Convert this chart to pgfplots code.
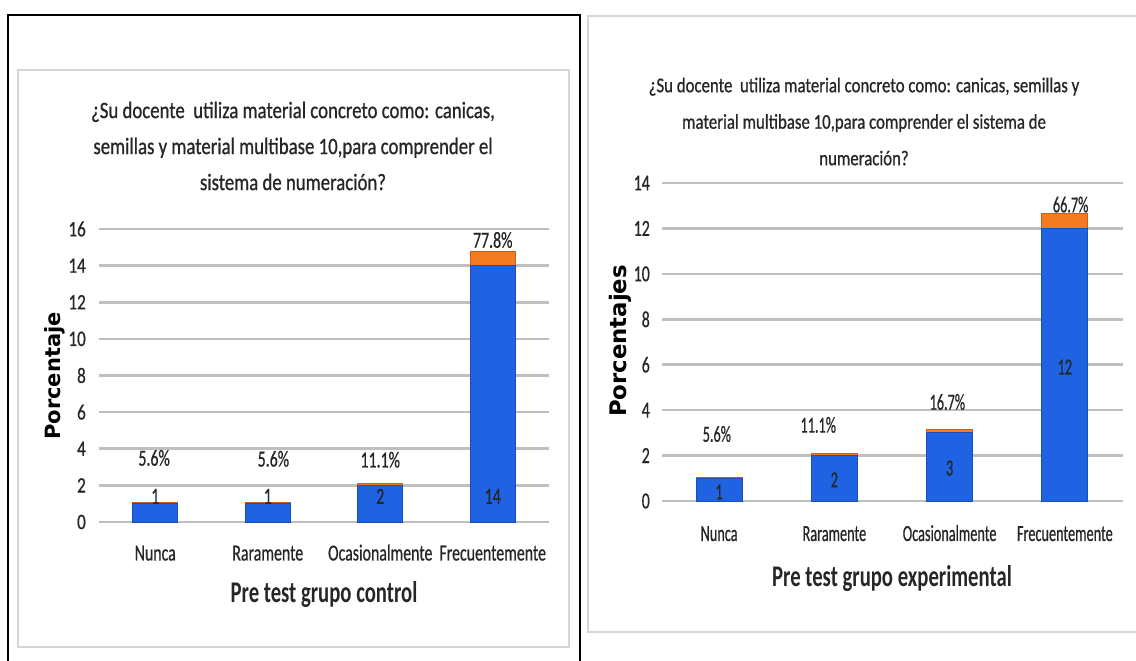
\documentclass[border=0pt]{standalone}
\usepackage{pgfplots}
\pgfplotsset{compat=1.18}
\usepackage{fontspec}
\setmainfont{Carlito}
% condensed cuts of the chart font
\newfontfamily\fttl[FakeStretch=0.80,FakeBold=0.8]{Carlito}
\newfontfamily\fleft[FakeStretch=0.69,FakeBold=0.6]{Carlito}
\newfontfamily\fright[FakeStretch=0.62,FakeBold=0.6]{Carlito}
\newfontfamily\ftickL[FakeStretch=0.78,FakeBold=0.6]{Carlito}
\newfontfamily\faxt[FakeStretch=0.69]{Carlito}
\newfontfamily\fylab{DejaVu Sans}

\definecolor{barblue}{HTML}{1F63E3}
\definecolor{barblueedge}{HTML}{1A4FB5}
\definecolor{barorange}{HTML}{F47B20}
\definecolor{barorangeedge}{HTML}{CC601A}
\definecolor{gridgray}{HTML}{BFBFBF}
\definecolor{panelgray}{HTML}{D6D6D6}
\definecolor{txt}{HTML}{262626}

\tikzset{
  vlabL/.style={text=txt, font=\fleft\fontsize{23}{25}\selectfont},
  vlabR/.style={text=txt, font=\fright\fontsize{23}{25}\selectfont},
}

\pgfplotsset{
  surveybars/.style={
    scale only axis,
    ybar stacked,
    xmin=-0.5, xmax=3.5,
    ymin=0,
    xtick={0,1,2,3},
    xticklabels={Nunca,Raramente,Ocasionalmente,Frecuentemente},
    axis line style={draw=none},
    major tick length=0pt,
    ymajorgrids,
    grid style={gridgray, line width=2.6pt},
    /pgf/number format/assume math mode=true,
    yticklabel style={anchor=east, inner sep=0pt, text=txt},
    xticklabel style={anchor=base, inner sep=0pt, text=txt},
    clip=false,
  },
  countbar/.style={fill=barblue, draw=barblueedge, line width=0.8pt},
  pctbar/.style={fill=barorange, draw=barorangeedge, line width=0.8pt},
}

\begin{document}
\begin{tikzpicture}[x=1pt,y=1pt]
\path[use as bounding box] (0,0) rectangle (1136,661);

% table cell frame
\draw[black, line width=1.4pt] (8,0) -- (8,646) -- (580,646) -- (580,0);
% chart areas
\draw[panelgray, line width=2.5pt] (18,14) rectangle (569,591);
\draw[panelgray, line width=2.5pt] (1136,645) -- (588,645) -- (588,29) -- (1136,29);

% ---------- control group ----------
\begin{axis}[surveybars,
  at={(99pt,139pt)}, anchor=south west,
  width=450pt, height=293pt,
  ymax=16, ytick={0,2,...,16},
  bar width=45pt,
  yticklabel style={font=\ftickL\fontsize{22}{24}\selectfont, xshift=-13pt},
  xticklabel style={font=\fleft\fontsize{23}{25}\selectfont, yshift=-38.5pt},
]
\addplot[countbar] coordinates {(0,1) (1,1) (2,2) (3,14)};
\addplot[pctbar] coordinates {(0,0.056) (1,0.056) (2,0.111) (3,0.778)};
% anchor points for the data labels
\coordinate (Lp0) at (axis cs:-0.01,3.5);
\coordinate (Lp1) at (axis cs:1.05,3.45);
\coordinate (Lp2) at (axis cs:2.0,3.4);
\coordinate (Lp3) at (axis cs:3.0,15.4);
\coordinate (Lc0) at (axis cs:0,1.4);
\coordinate (Lc1) at (axis cs:1,1.4);
\coordinate (Lc2) at (axis cs:2,1.4);
\coordinate (Lc3) at (axis cs:3,1.4);
\end{axis}
\node[vlabL] at (Lp0) {5.6\%};
\node[vlabL] at (Lp1) {5.6\%};
\node[vlabL] at (Lp2) {11.1\%};
\node[vlabL] at (Lp3) {77.8\%};
\node[vlabL] at (Lc0) {1};
\node[vlabL] at (Lc1) {1};
\node[vlabL] at (Lc2) {2};
\node[vlabL] at (Lc3) {14};

% ---------- experimental group ----------
\begin{axis}[surveybars,
  at={(661.5pt,160pt)}, anchor=south west,
  width=461pt, height=318pt,
  ymax=14, ytick={0,2,...,14},
  bar width=46pt,
  yticklabel style={font=\fleft\fontsize{23}{25}\selectfont, xshift=-11.5pt},
  xticklabel style={font=\fright\fontsize{23}{25}\selectfont, yshift=-40pt},
]
\addplot[countbar] coordinates {(0,1) (1,2) (2,3) (3,12)};
\addplot[pctbar] coordinates {(0,0.056) (1,0.111) (2,0.167) (3,0.667)};
\coordinate (Rp0) at (axis cs:-0.02,2.95);
\coordinate (Rp1) at (axis cs:0.86,3.35);
\coordinate (Rp2) at (axis cs:1.98,4.36);
\coordinate (Rp3) at (axis cs:3.05,13.05);
\coordinate (Rc0) at (axis cs:0,0.4);
\coordinate (Rc1) at (axis cs:1,0.93);
\coordinate (Rc2) at (axis cs:2,1.45);
\coordinate (Rc3) at (axis cs:3,5.9);
\end{axis}
\node[vlabR] at (Rp0) {5.6\%};
\node[vlabR] at (Rp1) {11.1\%};
\node[vlabR] at (Rp2) {16.7\%};
\node[vlabR] at (Rp3) {66.7\%};
\node[vlabR] at (Rc0) {1};
\node[vlabR] at (Rc1) {2};
\node[vlabR] at (Rc2) {3};
\node[vlabR] at (Rc3) {12};

% titles
\node[align=center, text=txt, inner sep=0pt, font=\fttl\fontsize{23.5}{36}\selectfont]
  at (293,515) {¿Su docente~ utiliza material concreto como: canicas,\\
  semillas y material multibase 10,para comprender el\\
  sistema de numeración?};
\node[align=center, text=txt, inner sep=0pt, font=\fttl\fontsize{21}{36.5}\selectfont]
  at (864,539.5) {¿Su docente~ utiliza material concreto como: canicas, semillas y\\
  material multibase 10,para comprender el sistema de\\
  numeración?};

% axis titles
\node[text=txt, font=\faxt\bfseries\fontsize{30}{32}\selectfont] at (324,66) {Pre test grupo control};
\node[text=txt, font=\faxt\bfseries\fontsize{30}{32}\selectfont] at (892,82) {Pre test grupo experimental};

% value axis titles
\node[rotate=90, anchor=base, inner sep=0pt, text=black, font=\fylab\bfseries\fontsize{21}{23}\selectfont] at (60,285) {Porcentaje};
\node[rotate=90, anchor=base, inner sep=0pt, text=black, font=\fylab\bfseries\fontsize{22.8}{25}\selectfont] at (626,320) {Porcentajes};
\end{tikzpicture}
\end{document}
